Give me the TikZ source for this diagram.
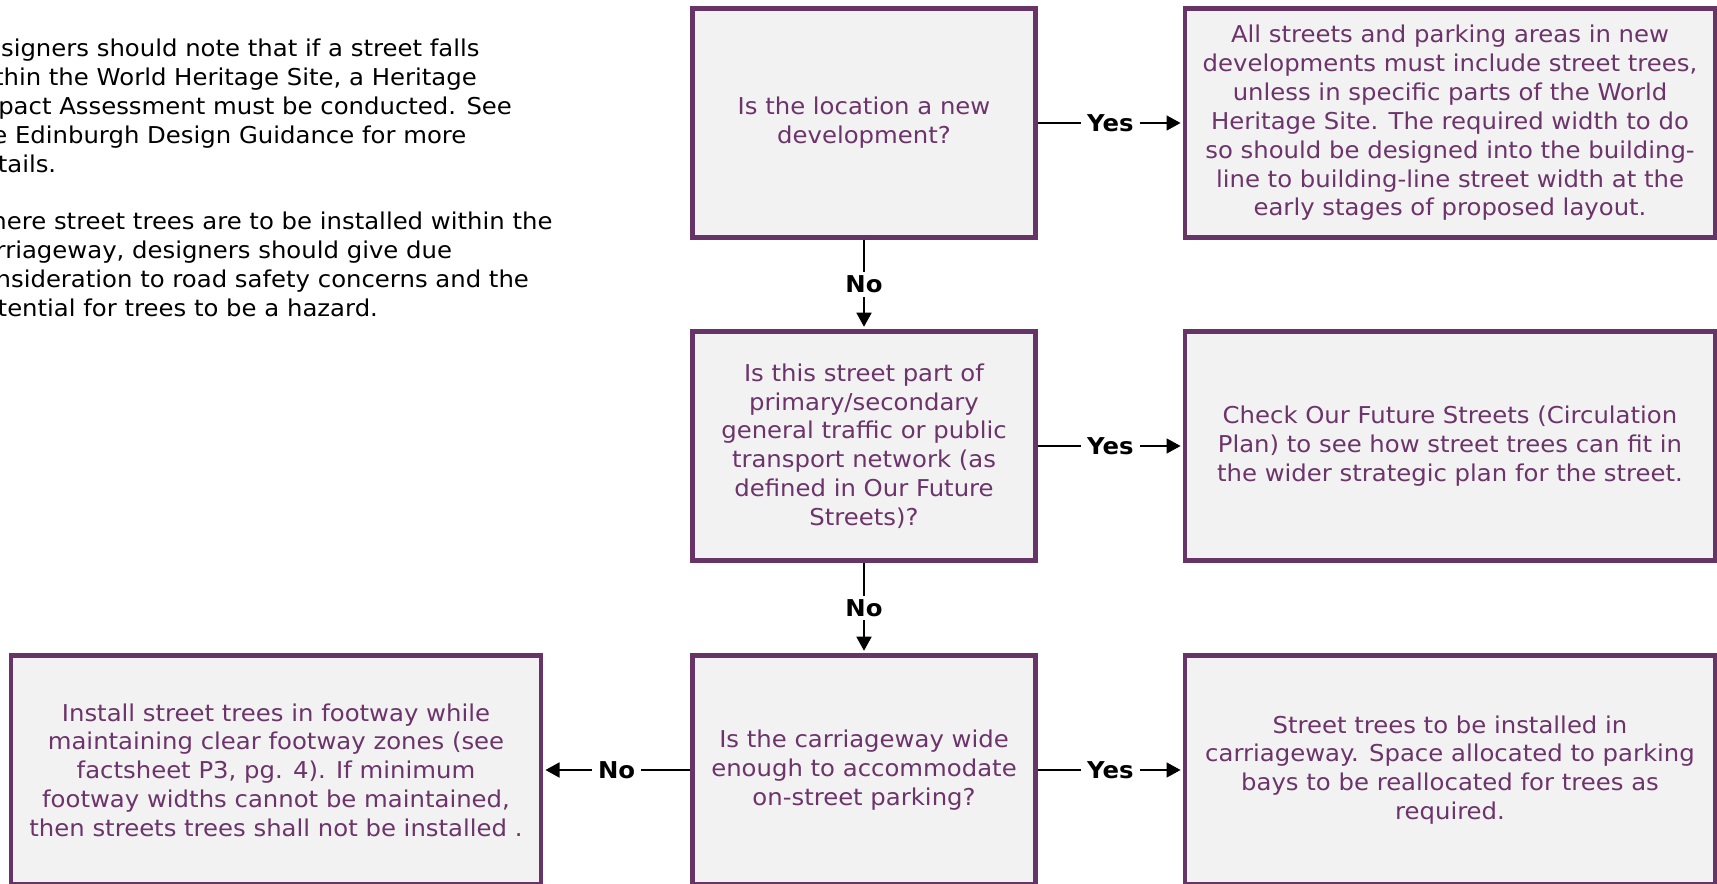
\documentclass[tikz,border=0pt]{standalone}
\usepackage{fontspec}
\setmainfont{DejaVu Sans}[FakeStretch=1.05]
\usetikzlibrary{arrows.meta}
\definecolor{boxline}{RGB}{103,52,103}
\definecolor{boxtext}{RGB}{108,52,106}
\definecolor{boxfill}{RGB}{242,242,242}
\newcommand{\bodyfont}{\fontsize{13.2}{16.4}\selectfont}

\begin{document}
\begin{tikzpicture}[x=0.02cm, y=-0.02cm, every node/.style={font=\bodyfont},
    box/.style={draw=boxline, fill=boxfill, line width=0.09cm, text=boxtext, align=center, inner sep=0pt, minimum height=4.59cm},
    qbox/.style={box, minimum width=6.87cm},
    abox/.style={box, minimum width=10.6cm},
    flow/.style={-{Triangle[length=8pt,width=8.5pt]}, line width=1.1pt, black, shorten >=0.045cm},
    lbl/.style={fill=white, text=black, font=\bfseries\bodyfont, inner xsep=3.5pt, inner ysep=2pt}]
    \useasboundingbox (0,0) rectangle (1717,884);
    \clip (0,0) rectangle (1717,884);
    \fill[white] (0,0) rectangle (1717,884);
    % notes, cut at the left edge
    \node[anchor=north west, align=left, inner sep=0pt] (notes) at (-33,39) {Designers should note that if a street falls\\within the World Heritage Site, a Heritage\\Impact Assessment must be conducted. See\\the Edinburgh Design Guidance for more\\details.\\[16.4pt]Where street trees are to be installed within the\\carriageway, designers should give due\\consideration to road safety concerns and the\\potential for trees to be a hazard.};
    % questions
    \node[qbox] (q1) at (864,123) {Is the location a new\\development?};
    \node[qbox] (q2) at (864,446) {Is this street part of\\primary/secondary\\general traffic or public\\transport network (as\\defined in Our Future\\Streets)?};
    \node[qbox] (q3) at (864,770) {Is the carriageway wide\\enough to accommodate\\on-street parking?};
    % outcomes
    \node[abox] (r1) at (1450,123) {All streets and parking areas in new\\developments must include street trees,\\unless in specific parts of the World\\Heritage Site. The required width to do\\so should be designed into the building-\\line to building-line street width at the\\early stages of proposed layout.};
    \node[abox] (r2) at (1450,446) {Check Our Future Streets (Circulation\\Plan) to see how street trees can fit in\\the wider strategic plan for the street.};
    \node[abox] (r3) at (1450,770) {Street trees to be installed in\\carriageway. Space allocated to parking\\bays to be reallocated for trees as\\required.};
    \node[abox] (l3) at (276,770) {Install street trees in footway while\\maintaining clear footway zones (see\\factsheet P3, pg. 4). If minimum\\footway widths cannot be maintained,\\then streets trees shall not be installed .};
    % connectors
    \draw[flow] (q1) -- node[lbl]{Yes} (r1);
    \draw[flow] (q2) -- node[lbl]{Yes} (r2);
    \draw[flow] (q3) -- node[lbl]{Yes} (r3);
    \draw[flow] (q3) -- node[lbl]{No} (l3);
    \draw[flow] (q1) -- node[lbl]{No} (q2);
    \draw[flow] (q2) -- node[lbl]{No} (q3);
\end{tikzpicture}
\end{document}
